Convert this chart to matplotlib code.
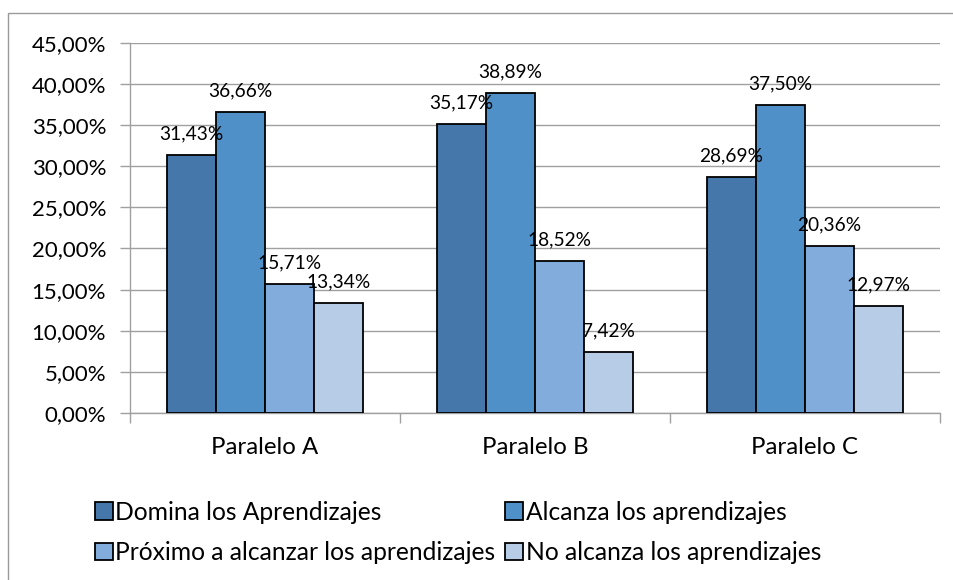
import numpy as np
import matplotlib as mpl
import matplotlib.pyplot as plt
import matplotlib.ticker as ticker
from matplotlib.patches import Rectangle

mpl.rcParams['font.family'] = ['Lato', 'DejaVu Sans']

categories = ['Paralelo A', 'Paralelo B', 'Paralelo C']
series_names = ['Domina los Aprendizajes', 'Alcanza los aprendizajes',
                'Próximo a alcanzar los aprendizajes', 'No alcanza los aprendizajes']
domina = [31.43, 35.17, 28.69]
alcanza = [36.66, 38.89, 37.50]
proximo = [15.71, 18.52, 20.36]
no_alcanza = [13.34, 7.42, 12.97]
series_values = [domina, alcanza, proximo, no_alcanza]
colors = ['#4677AA', '#5090C8', '#82ACDB', '#B7CCE7']

fig = plt.figure(figsize=(9.54, 5.8), dpi=100)
ax = fig.add_axes([0.1363, 0.288, 0.849, 0.638])

# outer chart border (Excel chart area)
fig.patches.append(Rectangle((8 / 954, -0.1), 1.2, (580 - 13) / 580 + 0.1,
                             transform=fig.transFigure, fill=False,
                             edgecolor='#9a9a9a', linewidth=1.0))

x = np.arange(len(categories))
bw = 0.182
bars = []
for i, (vals, c) in enumerate(zip(series_values, colors)):
    pos = x + (i - 1.5) * bw
    b = ax.bar(pos, vals, width=bw, color=c, edgecolor='black', linewidth=1.3,
               zorder=3, label=series_names[i])
    bars.append(b)
    for p, v in zip(pos, vals):
        ax.annotate(f'{v:.2f}%'.replace('.', ','), (p, v), xytext=(0, 9),
                    textcoords='offset points', ha='center', va='bottom',
                    fontsize=13.8, zorder=4)

ax.set_xlim(-0.5, 2.5)
ax.set_ylim(0, 45)
ax.yaxis.set_major_locator(ticker.MultipleLocator(5))
ax.yaxis.set_major_formatter(ticker.FuncFormatter(lambda v, p: f'{v:.2f}%'.replace('.', ',')))
ax.grid(axis='y', color='#a0a0a0', linewidth=1.0, zorder=0)
ax.set_axisbelow(True)

ax.set_xticks(x)
ax.set_xticklabels(categories)
ax.set_xticks([-0.5, 0.5, 1.5, 2.5], minor=True)
ax.tick_params(axis='x', which='major', length=0, pad=17, labelsize=17.3)
ax.tick_params(axis='x', which='minor', length=7.2, color='#a0a0a0', width=1.0)
ax.tick_params(axis='y', length=7.2, color='#a0a0a0', width=1.0, labelsize=16, pad=10)

for s in ['top', 'right']:
    ax.spines[s].set_visible(False)
for s in ['left', 'bottom']:
    ax.spines[s].set_color('#a0a0a0')
    ax.spines[s].set_linewidth(1.0)

order = [0, 2, 1, 3]
handles = [bars[i] for i in order]
labels = [series_names[i] for i in order]
fig.legend(handles, labels, ncol=2, loc='upper left', bbox_to_anchor=(83 / 954, 0.158),
           frameon=False, fontsize=17.7, handlelength=0.7, handleheight=0.7,
           handletextpad=0.12, columnspacing=0.4, labelspacing=0.7, borderpad=0)

fig.savefig('out.png', dpi=100)
